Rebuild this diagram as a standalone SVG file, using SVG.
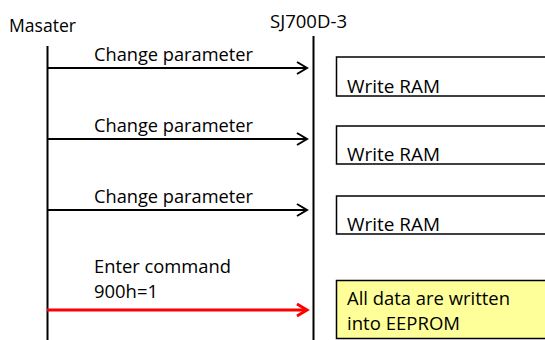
<svg xmlns="http://www.w3.org/2000/svg" width="545" height="340" viewBox="0 0 545 340">
<style>
text{font-family:"Open Sans","Liberation Sans",sans-serif;font-size:18px;fill:#000}
.life{stroke:#000;stroke-width:2}
.msg{stroke:#000;stroke-width:2;fill:none}
.box{fill:#fff;stroke:#000;stroke-width:1.5}
</style>
<defs>
<marker id="ah" markerUnits="userSpaceOnUse" markerWidth="16" markerHeight="16" refX="12" refY="8" orient="auto" viewBox="0 0 16 16"><path d="M2,2 L12,8 L2,14" fill="none" stroke="#000" stroke-width="2"/></marker>
<marker id="ahr" markerUnits="userSpaceOnUse" markerWidth="16" markerHeight="16" refX="12" refY="8" orient="auto" viewBox="0 0 16 16"><path d="M2,2 L12,8 L2,14" fill="none" stroke="#f00" stroke-width="3"/></marker>
</defs>
<rect width="545" height="340" fill="#fff"/>
<g id="master"><text x="9" y="32" textLength="67" lengthAdjust="spacingAndGlyphs">Masater</text><line class="life" x1="47.5" y1="46" x2="47.5" y2="340"/></g>
<g id="sj700d"><text x="270" y="28" textLength="77" lengthAdjust="spacingAndGlyphs">SJ700D-3</text><line class="life" x1="313.5" y1="36" x2="313.5" y2="340"/></g>
<g id="connectors">
<line class="msg" x1="47" y1="68" x2="307" y2="68" marker-end="url(#ah)"/>
<line class="msg" x1="47" y1="139" x2="307" y2="139" marker-end="url(#ah)"/>
<line class="msg" x1="47" y1="210" x2="307" y2="210" marker-end="url(#ah)"/>
<line x1="47" y1="310" x2="307" y2="310" stroke="#f00" stroke-width="3" marker-end="url(#ahr)"/>
</g>
<g id="msg1"><text x="94" y="61" textLength="159" lengthAdjust="spacingAndGlyphs">Change parameter</text></g>
<g id="msg2"><text x="94" y="132" textLength="159" lengthAdjust="spacingAndGlyphs">Change parameter</text></g>
<g id="msg3"><text x="94" y="203" textLength="159" lengthAdjust="spacingAndGlyphs">Change parameter</text></g>
<g id="msg4"><text x="94" y="273" textLength="137" lengthAdjust="spacingAndGlyphs">Enter command</text><text x="94" y="298" textLength="64" lengthAdjust="spacingAndGlyphs">900h=1</text></g>
<g id="ram1"><rect class="box" x="336.5" y="57" width="220" height="39"/><text x="347" y="93" textLength="93" lengthAdjust="spacingAndGlyphs">Write RAM</text></g>
<g id="ram2"><rect class="box" x="336.5" y="126" width="220" height="38"/><text x="347" y="161" textLength="93" lengthAdjust="spacingAndGlyphs">Write RAM</text></g>
<g id="ram3"><rect class="box" x="336.5" y="196" width="220" height="38"/><text x="347" y="231" textLength="93" lengthAdjust="spacingAndGlyphs">Write RAM</text></g>
<g id="eeprom"><rect x="336.5" y="280.5" width="220" height="58" fill="#ffff99" stroke="#000" stroke-width="1.5"/><text x="347" y="305" textLength="163" lengthAdjust="spacingAndGlyphs">All data are written</text><text x="347" y="330" textLength="113" lengthAdjust="spacingAndGlyphs">into EEPROM</text></g>
</svg>
